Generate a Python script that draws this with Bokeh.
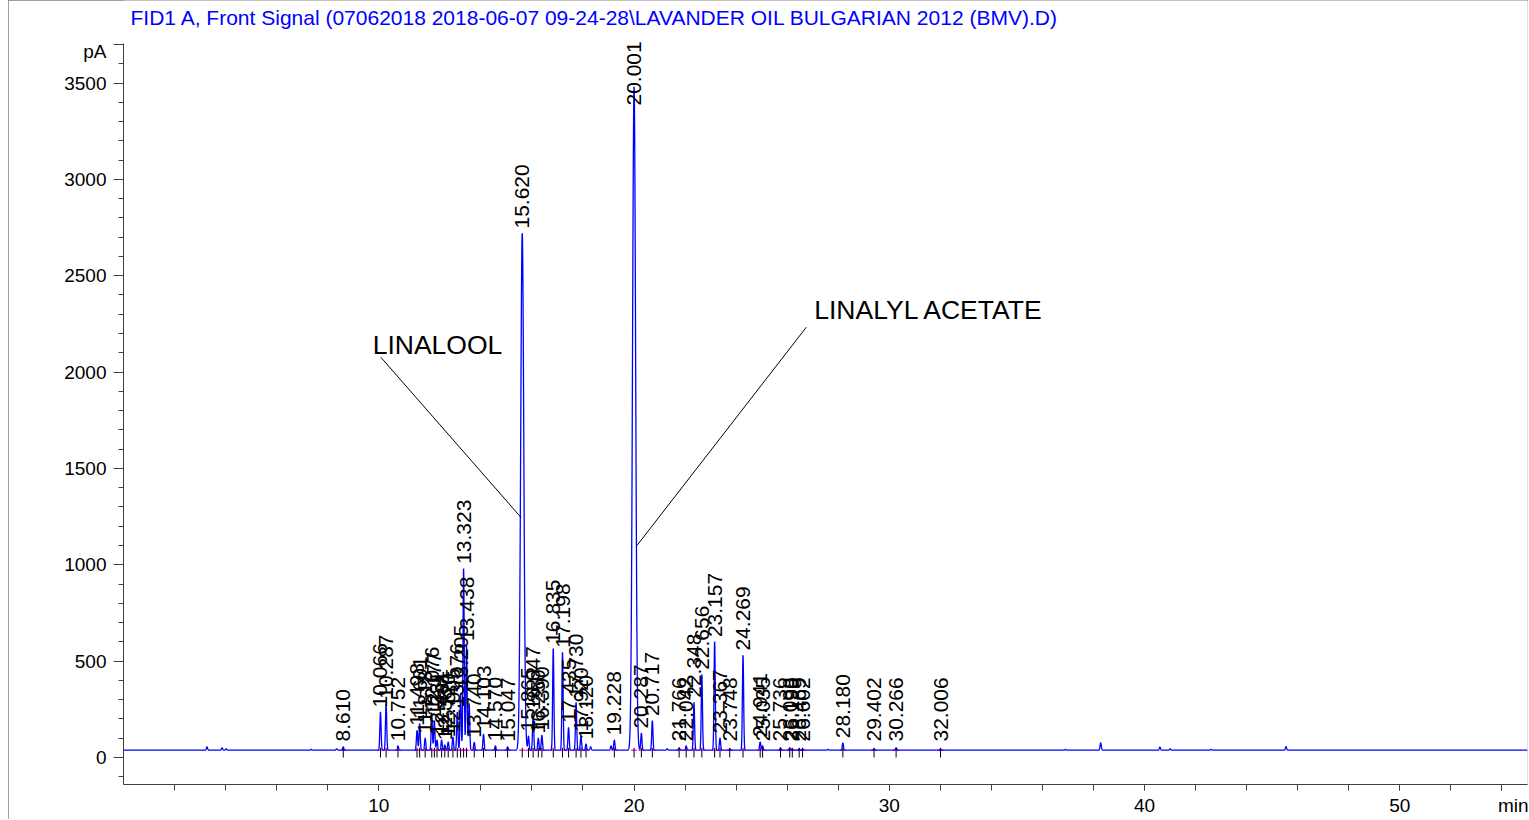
import numpy as np
from bokeh.plotting import figure
from bokeh.models import Range1d, FixedTicker, Label, ColumnDataSource
from bokeh.embed import file_html
from bokeh.resources import INLINE
from bokeh.core.properties import value

# ---------------- data ----------------
title_text = "FID1 A, Front Signal (07062018 2018-06-07 09-24-28\\LAVANDER OIL BULGARIAN 2012 (BMV).D)"
y_unit = "pA"
x_unit = "min"

baseline_pa = 38

# labelled peaks: retention time (min) and apex signal (pA)
peak_rt = [8.610, 10.066, 10.287, 10.752, 11.498, 11.601, 11.818, 12.076, 12.177,
           12.281, 12.461, 12.587, 12.720, 12.905, 13.076, 13.205, 13.323, 13.438,
           13.740, 14.103, 14.570, 15.047, 15.620, 15.865, 16.047, 16.250, 16.390,
           16.835, 17.198, 17.435, 17.730, 17.920, 18.120, 19.228, 20.001, 20.287,
           20.717, 21.766, 22.042, 22.348, 22.656, 23.157, 23.367, 23.748, 24.269,
           24.941, 25.035, 25.736, 26.098, 26.199, 26.469, 26.602, 28.180, 29.402,
           30.266, 32.006]
peak_pa = [55, 235, 280, 60, 140, 175, 100, 218, 190,
           90, 90, 65, 80, 105, 235, 330, 980, 580,
           78, 120, 60, 55, 2720, 110, 220, 100, 115,
           565, 545, 155, 285, 110, 70, 90, 3480, 125,
           190, 50, 60, 285, 430, 600, 100, 45, 530,
           80, 60, 50, 50, 45, 45, 45, 75, 45,
           50, 45]

# small unlabelled peaks
minor_rt = [3.27, 3.86, 4.02, 7.35, 8.35, 13.54, 18.30, 19.10, 21.30, 27.60,
            36.90, 38.28, 40.60, 41.00, 42.60, 45.54]
minor_pa = [55, 50, 45, 42, 45, 280, 55, 60, 45, 42,
            42, 76, 54, 45, 42, 56]

x_major_ticks = [10, 20, 30, 40, 50]
y_major_ticks = [0, 500, 1000, 1500, 2000, 2500, 3000, 3500]

compound_names = ["LINALOOL", "LINALYL ACETATE"]

# ---------------- figure ----------------
y_lo, y_axis_top = -140, 3705
frame_px = 784.0
px_per_pa = 741 / (y_axis_top - y_lo)
y_hi = y_lo + frame_px / px_per_pa       # frame reaches the top edge; axis line is bounded

p = figure(width=1520, height=819, output_backend="svg", toolbar_location=None,
           x_range=Range1d(0, 55), y_range=Range1d(y_lo, y_hi),
           min_border_left=115, min_border_right=1, min_border_top=0,
           min_border_bottom=35, outline_line_color=None,
           background_fill_color="white", border_fill_color="white")
p.styles = {"outline": "1px solid #808080", "outline-offset": "-1px",
            "margin-left": "8px"}
p.grid.visible = False
p.title.visible = False

ax_col = "#404040"
# unit marks sit on spare axis positions
x_unit_pos = 54
y_unit_pos = 3700
xa = p.xaxis[0]
xa.ticker = FixedTicker(ticks=x_major_ticks + [x_unit_pos], minor_ticks=list(range(2, 56, 2)))
xa.major_label_overrides = {x_unit_pos: "\u00a0" * 5 + x_unit}
xa.major_tick_out = 6
xa.major_tick_in = 0
xa.minor_tick_out = 6
xa.minor_tick_in = 0
xa.major_label_standoff = 4
ya = p.yaxis[0]
ya.bounds = (y_lo, y_axis_top)
ya.ticker = FixedTicker(ticks=y_major_ticks + [y_unit_pos],
                        minor_ticks=list(range(-100, 3800, 100)))
ya.major_label_overrides = {y_unit_pos: "\n" + y_unit}
ya.major_label_text_line_height = 0.7
ya.major_tick_out = 10
ya.major_tick_in = 0
ya.minor_tick_out = 5
ya.minor_tick_in = 0
ya.major_label_standoff = 7
for a in (xa, ya):
    a.axis_line_color = ax_col
    a.major_tick_line_color = ax_col
    a.minor_tick_line_color = ax_col
    a.major_label_text_font = "Liberation Sans"
    a.major_label_text_font_size = "19px"
    a.major_label_text_color = "#000000"

# title inside the (extended) frame
p.add_layout(Label(x=7, x_units="screen", y=frame_px - 17, y_units="screen",
                   text=title_text, text_align="left", text_baseline="middle",
                   text_font="Liberation Sans", text_font_size="21px",
                   text_color="#0000FF"))

# ---------------- trace ----------------
xs = np.linspace(0, 55, 44001)
sig = np.full_like(xs, float(baseline_pa))
for t, h in list(zip(peak_rt, peak_pa)) + list(zip(minor_rt, minor_pa)):
    w = 0.06 if h > 1000 else 0.024
    sig += (h - baseline_pa) * np.exp(-0.5 * ((xs - t) / w) ** 2)

# integration baselines (magenta)
p.segment(x0=[t - 0.12 for t in peak_rt], y0=[baseline_pa] * len(peak_rt),
          x1=[t + 0.12 for t in peak_rt], y1=[baseline_pa] * len(peak_rt),
          line_color="#FF00FF", line_width=1.2)
p.line(xs, sig, line_color="#0000FF", line_width=1.3)

# retention time markers
p.segment(x0=peak_rt, y0=[0] * len(peak_rt), x1=peak_rt, y1=[50] * len(peak_rt),
          line_color="#000000", line_width=1)

# retention time labels
lab_len_pa = 62 / px_per_pa
lab_y = [min(max(h + 25, 83), y_axis_top - lab_len_pa) for h in peak_pa]
src = ColumnDataSource(dict(x=peak_rt, y=lab_y, text=[f"{t:.3f}" for t in peak_rt]))
p.text(x="x", y="y", text="text", source=src, angle=np.pi / 2,
       text_align="left", text_baseline="middle",
       text_font=value("Liberation Sans"), text_font_size="21px", text_color="#000000")

# compound annotations
p.line([10.08, 15.57], [2077, 1246], line_color="#000000", line_width=1)
p.line([26.75, 20.12], [2233, 1101], line_color="#000000", line_width=1)
p.add_layout(Label(x=9.76, y=2139, text=compound_names[0], text_align="left",
                   text_baseline="middle", text_font="Liberation Sans",
                   text_font_size="26.5px", text_color="#000000"))
p.add_layout(Label(x=27.06, y=2321, text=compound_names[1], text_align="left",
                   text_baseline="middle", text_font="Liberation Sans",
                   text_font_size="26.5px", text_color="#000000"))

open("out.html", "w").write(file_html(p, INLINE))
